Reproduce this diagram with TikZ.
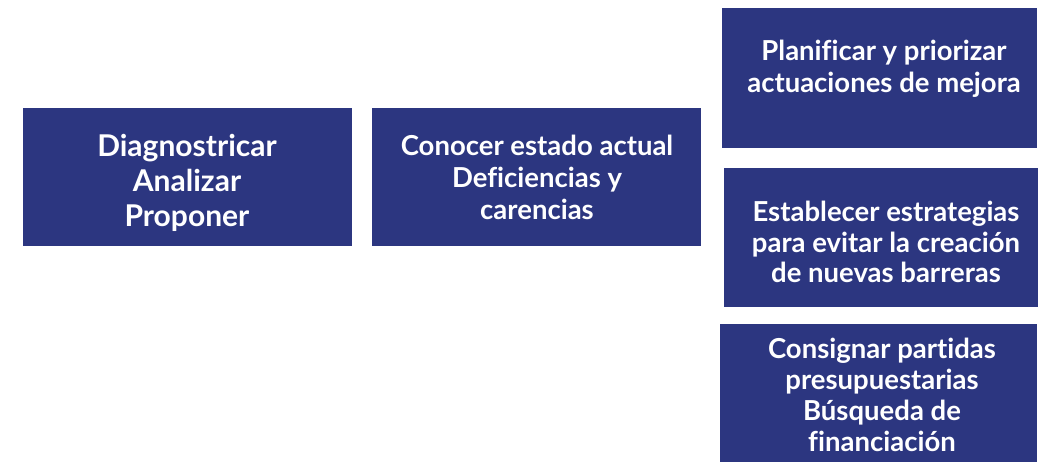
\documentclass[tikz,border=0pt]{standalone}
\usepackage{fontspec}
\setmainfont{Lato}[UprightFont=* Bold, Ligatures=NoCommon]
\definecolor{boxblue}{RGB}{44,54,128}
\tikzset{
  box/.style={fill=boxblue, draw=none, inner sep=0pt, anchor=north west},
  txt/.style={text=white, align=center, inner sep=0pt, font=\fontsize{27.5}{#1}\selectfont},
  bigtxt/.style={text=white, align=center, inner sep=0pt, font=\fontsize{30}{#1}\selectfont},
}
\begin{document}
\begin{tikzpicture}[x=1pt,y=-1pt]
\useasboundingbox (0,0) rectangle (1038,462);
\begin{scope}
\clip (0,0) rectangle (1038,462);
\node[box, minimum width=329pt, minimum height=138pt] (b1) at (23,108) {};
\node[box, minimum width=329pt, minimum height=138pt] (b2) at (372,108) {};
\node[box, minimum width=315pt, minimum height=140pt] (b3) at (722,8) {};
\node[box, minimum width=314pt, minimum height=139pt] (b4) at (724,168) {};
\node[box, minimum width=317pt, minimum height=146pt] (b5) at (720,324) {};
\end{scope}
\node[bigtxt=35pt] (t1) at (187,183) {Diagnostricar\\Analizar\\Proponer};
\node[txt=32pt] (t2) at (537,177) {Conocer estado actual\\Deficiencias y\\carencias};
\node[txt=32pt] (t3) at (884,69) {Planificar y priorizar\\actuaciones de mejora};
\node[txt=30.5pt] (t4) at (886,242) {Establecer estrategias\\para evitar la creación\\de nuevas barreras};
\node[txt=31pt] (t5) at (882,395) {Consignar partidas\\presupuestarias\\Búsqueda de\\financiación};
\end{tikzpicture}
\end{document}
